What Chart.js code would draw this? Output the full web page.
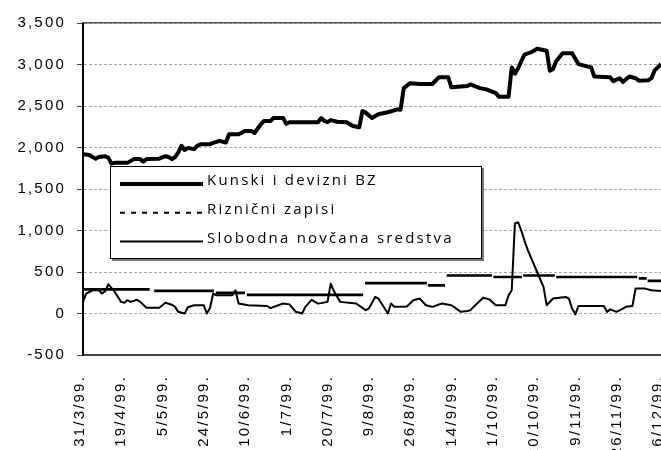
<!DOCTYPE html>
<html>
<head>
    <meta charset="utf-8">
    <title>Kunski i devizni BZ, Riznični zapisi, Slobodna novčana sredstva</title>
    <script src="https://cdn.jsdelivr.net/npm/chart.js"></script>
    <style>
        html, body { margin: 0; padding: 0; background: #fff; overflow: hidden; }
        #wrap { width: 661px; height: 450px; }
    </style>
</head>
<body>
    <div id="wrap"><canvas id="chart" width="661" height="450"></canvas></div>

    <script>
        // x = trading day index, a date label every 13 days
        const dateLabels = ['31/3/99.', '19/4/99.', '5/5/99.', '24/5/99.', '10/6/99.', '1/7/99.', '20/7/99.',
            '9/8/99.', '26/8/99.', '14/9/99.', '1/10/99.', '20/10/99.', '9/11/99.', '26/11/99.', '16/12/99.'];
        const labelStep = 13;
        const lastDay = 182;

        // [day, value] where the line changes
        const kunskiBZ = [[0,1920],[2,1910],[3,1885],[4,1865],[5,1885],[7,1895],[8,1875],[9,1805],[10,1815],[14,1815],
            [16,1860],[18,1860],[19,1830],[20,1860],[24,1865],[26,1895],[27,1885],[28,1860],[29,1885],[30,1940],
            [31,2020],[32,1970],[33,1995],[35,1980],[36,2020],[37,2040],[40,2040],[41,2055],[43,2080],[45,2060],
            [46,2160],[49,2160],[51,2200],[53,2200],[54,2175],[56,2280],[57,2320],[59,2320],[60,2355],[63,2355],
            [64,2285],[65,2305],[74,2305],[75,2355],[76,2320],[77,2305],[78,2330],[80,2310],[83,2305],[85,2260],
            [87,2245],[88,2440],[89,2420],[91,2355],[93,2400],[96,2425],[99,2460],[100,2455],[101,2715],[103,2775],
            [106,2765],[110,2765],[112,2845],[115,2845],[116,2725],[121,2740],[122,2760],[125,2715],[127,2700],
            [130,2655],[131,2610],[134,2610],[135,2965],[136,2890],[137,2955],[139,3120],[141,3145],[143,3190],
            [146,3165],[147,2925],[148,2945],[149,3040],[151,3135],[154,3135],[156,3005],[159,2975],[160,2965],
            [161,2855],[166,2845],[167,2800],[169,2835],[170,2790],[172,2855],[174,2835],[175,2805],[178,2810],
            [179,2835],[180,2930],[182,3005]];

        // [from day, to day, value]
        const zapisi = [[0,21,290],[22.4,41.2,272],[41.8,51,248],[51.6,88.2,225],[88.8,108.3,365],[108.6,114,340],
            [114.5,128.8,458],[129.2,138.2,440],[138.6,148.6,458],[149,174.5,440],[175,177.5,424],[177.8,182,392]];

        const slobodna = [[0,140],[1,240],[3,280],[5,280],[6,240],[7,270],[8,352],[10,260],[12,140],[13,130],
            [14,160],[15,140],[17,165],[18,140],[20,70],[24,70],[26,130],[28,105],[29,80],[30,20],[32,0],[33,75],
            [35,100],[38,100],[39,0],[40,70],[41,240],[42,220],[47,220],[48,280],[49,120],[52,100],[58,90],[59,65],
            [63,120],[65,110],[67,20],[69,0],[70,80],[72,165],[74,120],[75,125],[77,140],[78,360],[79,270],[81,140],
            [86,120],[89,40],[90,60],[92,200],[93,180],[95,60],[96,0],[97,120],[98,80],[102,85],[104,160],[106,180],
            [108,100],[110,80],[113,120],[116,100],[119,20],[121,30],[122,40],[123,80],[126,190],[128,170],[130,100],
            [133,100],[134,220],[135,280],[136,1085],[137,1100],[138,1000],[139,880],[140,770],[141,680],[143,500],
            [145,320],[146,100],[148,180],[152,200],[153,180],[154,60],[155,-10],[156,90],[164,90],[165,20],[166,50],
            [168,20],[170,60],[171,80],[173,90],[174,300],[177,300],[179,280],[182,270]];

        const toPoints = rows => rows.map(([x, y]) => ({ x, y }));
        const segmentPoints = rows => rows.flatMap(([a, b, v]) => [{ x: a, y: v }, { x: b, y: v }, { x: b, y: null }]);

        const tickFont = { family: 'Liberation Sans, Arial, sans-serif', size: 15 };

        // legend is a box inside the plot, drawn by hand
        const legendStyle = [
            { width: 4, dash: [] },
            { width: 2, dash: [5, 6] },
            { width: 2, dash: [] }
        ];
        const legendBox = {
            id: 'legendBox',
            beforeDatasetsDraw(chart) {
                const c = chart.ctx;
                const left = 110, top = 166, w = 372, h = 93;
                c.save();
                c.fillStyle = '#7a7a7a';
                c.fillRect(left + 2, top + 2, w, h);
                c.fillStyle = '#fff';
                c.fillRect(left, top, w, h);
                c.strokeStyle = '#000';
                c.lineWidth = 1;
                c.strokeRect(left + 0.5, top + 0.5, w - 1, h - 1);
                c.font = '15px "Open Sans", sans-serif';
                c.letterSpacing = '2.2px';
                c.fillStyle = '#000';
                c.textBaseline = 'alphabetic';
                chart.data.datasets.forEach((ds, i) => {
                    const y = 184 + i * 28.8;
                    c.beginPath();
                    c.lineWidth = legendStyle[i].width;
                    c.setLineDash(legendStyle[i].dash);
                    c.moveTo(120, y);
                    c.lineTo(203, y);
                    c.stroke();
                    c.setLineDash([]);
                    c.fillText(ds.label, 207, y + 1);
                });
                c.restore();
            }
        };

        // solid black value axis line (the scale border takes the grid dash)
        const axisLine = {
            id: 'axisLine',
            afterDraw(chart) {
                const c = chart.ctx, a = chart.chartArea;
                c.save();
                c.setTransform(1, 0, 0, 1, 0, 0);
                c.globalAlpha = 1;
                c.globalCompositeOperation = 'source-over';
                c.fillStyle = '#000';
                c.fillRect(Math.round(a.left) - 1, Math.round(a.top), 2, Math.round(a.bottom - a.top));
                c.restore();
            }
        };

        const spacedText = {
            id: 'spacedText',
            beforeDraw(chart) { chart.ctx.letterSpacing = '2.2px'; }
        };

        new Chart(document.getElementById('chart'), {
            type: 'line',
            data: {
                datasets: [
                    { label: 'Kunski i devizni BZ', data: toPoints(kunskiBZ), borderColor: '#000', borderWidth: 4 },
                    { label: 'Riznični zapisi', data: segmentPoints(zapisi), borderColor: '#000', borderWidth: 2.7, spanGaps: false },
                    { label: 'Slobodna novčana sredstva', data: toPoints(slobodna), borderColor: '#000', borderWidth: 2 }
                ]
            },
            options: {
                responsive: false,
                animation: false,
                devicePixelRatio: 1,
                layout: { padding: { top: 23, left: 0, right: 0, bottom: 0 } },
                elements: {
                    point: { radius: 0 },
                    line: { tension: 0, borderJoinStyle: 'round', borderCapStyle: 'butt' }
                },
                plugins: { legend: { display: false }, tooltip: { enabled: false } },
                scales: {
                    x: {
                        type: 'linear',
                        min: 0,
                        max: lastDay,
                        afterBuildTicks: s => { s.ticks = dateLabels.map((_, i) => ({ value: i * labelStep })); },
                        afterFit: s => { s.height = 95; s.paddingLeft = 0; s.paddingRight = 0; },
                        ticks: {
                            autoSkip: false,
                            minRotation: 90,
                            maxRotation: 90,
                            padding: 20,
                            labelOffset: -3,
                            font: tickFont,
                            color: '#000',
                            callback: (v, i) => dateLabels[i]
                        },
                        grid: { display: false, drawTicks: false },
                        border: { color: '#444', width: 2 }
                    },
                    xTop: {
                        type: 'linear',
                        position: 'top',
                        min: 0,
                        max: lastDay,
                        afterFit: s => { s.height = 0; },
                        ticks: { display: false },
                        grid: { display: false, drawTicks: false },
                        border: { color: '#555', width: 1.5 }
                    },
                    y: {
                        min: -500,
                        max: 3500,
                        afterFit: s => { s.width = 83; s.paddingTop = 0; s.paddingBottom = 0; },
                        ticks: {
                            stepSize: 500,
                            padding: 11,
                            font: tickFont,
                            color: '#000',
                            callback: v => v.toLocaleString('en-US')
                        },
                        grid: { color: '#a8a8a8', tickLength: 6, tickColor: '#444' },
                        border: { color: '#000', width: 1, dash: [3, 2] }
                    }
                }
            },
            plugins: [spacedText, legendBox, axisLine]
        });
    </script>
</body>
</html>
